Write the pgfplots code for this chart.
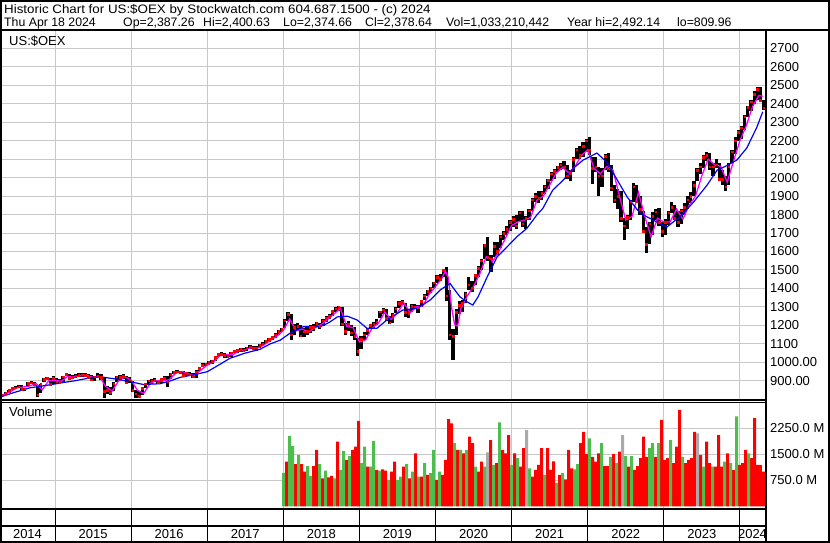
\documentclass[border=0pt]{standalone}
\usepackage{fontspec}
\setmainfont{Liberation Sans}
\usepackage{pgfplots}
\usepackage{pgfplotstable}
\pgfplotsset{compat=1.18}
\definecolor{gridgray}{RGB}{200,200,200}
\definecolor{vgreen}{RGB}{77,190,77}
\definecolor{vgray}{RGB}{170,170,170}
\definecolor{mag}{RGB}{255,0,255}
\definecolor{ablue}{RGB}{0,0,255}

% half-monthly price ranges, from second half of Apr 2014
\pgfplotstableread{
lo hi c
815 830 825
822 838 832
835 852 848
850 865 860
855 870 862
860 875 868
850 876 855
842 862 858
870 892 888
882 898 890
872 892 878
810 878 825
835 885 880
895 915 908
905 922 915
875 915 880
885 925 915
880 915 895
885 912 890
895 928 922
925 942 935
908 938 915
910 932 918
915 935 928
920 940 930
918 940 932
922 942 930
912 935 920
900 930 905
898 928 922
915 940 925
905 935 920
806 915 845
830 870 850
822 865 835
845 895 885
895 928 922
910 932 918
912 935 925
880 925 890
890 922 905
840 900 850
808 850 830
806 845 818
825 865 860
860 890 885
885 905 900
885 908 900
895 915 905
880 905 890
890 915 910
905 925 915
865 925 895
910 940 935
935 952 945
940 958 950
938 955 945
920 955 930
925 948 940
925 945 932
915 940 922
915 960 950
955 975 968
975 995 985
980 998 990
988 1008 1000
992 1012 1005
1005 1035 1028
1030 1052 1045
1035 1055 1045
1025 1050 1038
1022 1045 1030
1030 1058 1052
1048 1068 1060
1048 1070 1065
1058 1078 1070
1055 1075 1065
1060 1085 1078
1072 1092 1085
1065 1090 1075
1062 1088 1080
1075 1098 1092
1088 1108 1100
1100 1120 1115
1110 1132 1125
1120 1142 1135
1130 1158 1150
1150 1175 1170
1165 1188 1180
1185 1235 1225
1225 1274 1260
1120 1260 1150
1150 1205 1190
1170 1215 1195
1135 1200 1145
1135 1185 1165
1150 1190 1170
1160 1200 1190
1170 1205 1190
1190 1220 1212
1178 1212 1195
1195 1232 1225
1220 1250 1240
1235 1262 1250
1250 1285 1278
1270 1298 1290
1280 1305 1298
1195 1300 1210
1150 1215 1170
1170 1225 1205
1145 1200 1160
1120 1190 1140
1034 1130 1060
1070 1140 1125
1120 1165 1150
1150 1185 1175
1180 1210 1200
1180 1220 1210
1200 1235 1220
1240 1280 1275
1260 1292 1285
1225 1290 1240
1205 1250 1215
1215 1265 1255
1265 1300 1290
1295 1330 1320
1310 1335 1325
1245 1320 1270
1240 1290 1265
1270 1315 1305
1290 1318 1300
1265 1310 1295
1300 1340 1330
1335 1368 1360
1360 1390 1385
1375 1410 1400
1405 1435 1430
1430 1470 1460
1440 1480 1450
1460 1505 1500
1330 1515 1360
1120 1390 1150
1012 1180 1140
1150 1290 1270
1260 1330 1310
1270 1340 1320
1320 1380 1370
1390 1463 1420
1380 1440 1400
1420 1480 1470
1460 1520 1510
1500 1560 1550
1560 1640 1635
1550 1680 1570
1490 1580 1560
1570 1650 1630
1580 1650 1600
1620 1690 1680
1660 1710 1700
1690 1740 1720
1710 1770 1760
1730 1790 1775
1720 1800 1740
1760 1820 1810
1730 1820 1750
1720 1790 1780
1770 1830 1820
1820 1890 1880
1870 1915 1900
1860 1925 1890
1880 1930 1915
1910 1960 1950
1940 1995 1985
1980 2030 2020
1990 2045 2035
2030 2065 2055
2040 2080 2070
2045 2090 2060
1995 2070 2010
1980 2040 2025
2030 2110 2100
2100 2160 2150
2100 2170 2120
2110 2190 2170
2140 2210 2200
2120 2221 2150
1965 2110 2050
2030 2110 2060
1900 2060 2010
1950 2050 2010
2040 2125 2115
2030 2133 2050
1930 2070 1945
1860 1960 1880
1830 1940 1900
1760 1930 1780
1661 1780 1740
1720 1800 1785
1770 1880 1870
1870 1970 1950
1860 1960 1870
1800 1900 1830
1700 1820 1710
1591 1730 1640
1640 1760 1750
1690 1815 1790
1770 1830 1815
1740 1835 1760
1678 1760 1710
1690 1775 1760
1745 1820 1810
1810 1870 1840
1770 1850 1780
1732 1820 1760
1750 1830 1820
1800 1860 1840
1830 1900 1880
1860 1920 1900
1900 1980 1960
1980 2050 2040
2020 2080 2060
2050 2120 2110
2090 2140 2120
2040 2133 2060
2010 2080 2060
2050 2100 2070
1980 2080 1990
1960 2040 1990
1930 2010 1950
1960 2080 2060
2080 2150 2140
2130 2220 2200
2200 2260 2245
2210 2280 2270
2260 2340 2330
2330 2390 2380
2360 2420 2410
2400 2470 2450
2420 2492 2480
2410 2490 2420
2365 2420 2378
}\pricedata

\pgfplotstableread{
t v
2014.28 820
2014.333 826
2014.417 842
2014.500 862
2014.583 866
2014.667 872
2014.750 886
2014.833 852
2014.917 900
2015.000 902
2015.083 898
2015.167 924
2015.250 921
2015.333 927
2015.417 930
2015.500 918
2015.583 924
2015.667 868
2015.750 845
2015.833 898
2015.917 922
2016.000 903
2016.083 848
2016.167 832
2016.250 886
2016.333 902
2016.417 898
2016.500 906
2016.583 940
2016.667 950
2016.750 938
2016.833 930
2016.917 958
2017.000 985
2017.083 1002
2017.167 1035
2017.250 1042
2017.333 1040
2017.417 1062
2017.500 1068
2017.583 1080
2017.667 1078
2017.750 1095
2017.833 1120
2017.917 1142
2018.000 1172
2018.083 1235
2018.167 1170
2018.250 1180
2018.333 1163
2018.417 1188
2018.500 1205
2018.583 1232
2018.667 1262
2018.750 1292
2018.833 1195
2018.917 1188
2019.000 1110
2019.083 1122
2019.167 1185
2019.250 1212
2019.333 1272
2019.417 1232
2019.500 1268
2019.583 1322
2019.667 1268
2019.750 1300
2019.833 1305
2019.917 1368
2020.000 1410
2020.083 1455
2020.130 1494
2020.167 1460
2020.210 1300
2020.250 1205
2020.290 1196
2020.333 1290
2020.417 1360
2020.500 1410
2020.583 1480
2020.667 1571
2020.720 1560
2020.750 1545
2020.833 1600
2020.917 1670
2021.000 1740
2021.083 1760
2021.167 1770
2021.250 1785
2021.333 1878
2021.417 1900
2021.500 1960
2021.583 2022
2021.667 2055
2021.750 2025
2021.833 2060
2021.917 2120
2022.000 2150
2022.083 2050
2022.167 2020
2022.250 2060
2022.333 2040
2022.417 1900
2022.500 1770
2022.583 1790
2022.667 1920
2022.750 1790
2022.833 1680
2022.917 1780
2023.000 1760
2023.083 1760
2023.167 1830
2023.250 1775
2023.333 1850
2023.417 1900
2023.500 2010
2023.583 2100
2023.667 2070
2023.750 2060
2023.833 1975
2023.917 2090
2024.000 2200
2024.083 2280
2024.167 2385
2024.250 2445
2024.300 2440
}\fastma

\pgfplotstableread{
t v
2014.28 812
2014.45 835
2014.67 862
2014.93 878
2015.10 890
2015.26 900
2015.45 915
2015.59 922
2015.79 910
2015.99 895
2016.16 880
2016.38 884
2016.52 900
2016.64 918
2016.85 935
2017.00 949
2017.15 985
2017.30 1022
2017.50 1050
2017.69 1070
2017.83 1100
2017.96 1120
2018.09 1158
2018.26 1192
2018.48 1192
2018.60 1215
2018.71 1246
2018.84 1250
2018.97 1229
2019.10 1184
2019.23 1184
2019.36 1229
2019.57 1283
2019.76 1292
2019.93 1337
2020.06 1391
2020.19 1427
2020.32 1355
2020.41 1328
2020.49 1310
2020.56 1355
2020.68 1463
2020.81 1571
2020.94 1625
2021.07 1680
2021.20 1725
2021.33 1797
2021.41 1833
2021.54 1932
2021.68 1987
2021.81 2050
2021.94 2095
2022.07 2122
2022.12 2133
2022.25 2084
2022.39 1986
2022.52 1894
2022.69 1807
2022.86 1770
2023.04 1732
2023.21 1788
2023.38 1862
2023.57 1960
2023.70 2040
2023.83 2065
2023.96 2095
2024.09 2160
2024.22 2270
2024.30 2356
}\slowma

% volume (millions); c: 0 down (red), 1 up (green), 2 unchanged (gray)
\pgfplotstableread{
i v c
1 970 1
2 1290 0
3 2030 1
4 1740 1
5 1220 0
6 1480 1
7 1220 0
8 1000 0
9 1160 1
10 880 1
11 1160 0
12 1630 0
13 1220 1
14 810 0
15 1030 1
16 840 0
17 880 0
18 810 1
19 1865 0
20 1050 1
21 1600 1
22 1340 0
23 1450 1
24 1630 0
25 1720 0
26 2460 0
27 1245 1
28 1720 1
29 1150 0
30 1150 1
31 1885 1
32 1050 0
33 1030 1
34 1070 0
35 1030 0
36 765 1
37 1000 0
38 1290 0
39 765 1
40 860 1
41 1150 0
42 1220 1
43 810 0
44 1000 1
45 1530 0
46 860 1
47 860 0
48 1245 1
49 910 0
50 960 1
51 1630 1
52 765 0
53 1000 1
54 910 0
55 1340 0
56 2510 0
57 2390 0
58 1820 1
59 1630 0
60 1630 1
61 1530 0
62 1630 1
63 2010 0
64 1820 0
65 1150 1
66 1000 0
67 1290 0
68 1150 1
69 1560 2
70 1910 0
71 1195 1
72 1245 0
73 2420 1
74 1630 0
75 1530 0
76 2055 0
77 1195 1
78 1530 0
79 1390 1
80 1150 0
81 1680 0
82 2200 2
83 1100 1
84 860 0
85 1050 0
86 1195 0
87 1680 0
88 910 1
89 1680 0
90 1050 0
91 1300 0
92 680 1
93 910 0
94 960 1
95 780 0
96 1630 0
97 1100 0
98 1070 1
99 1220 1
100 1820 0
101 2150 0
102 1510 0
103 1960 1
104 1430 0
105 1290 0
106 1530 0
107 1820 1
108 1160 0
109 1160 0
110 1430 1
111 1510 0
112 1245 1
113 1580 0
114 2055 2
115 1450 1
116 1150 0
117 1450 1
118 1050 0
119 1160 0
120 1390 0
121 2010 0
122 1430 0
123 1680 1
124 1820 1
125 1430 0
126 1820 1
127 2490 0
128 1340 0
129 1390 0
130 1910 1
131 1245 0
132 1720 0
133 2780 0
134 1430 1
135 1245 0
136 1340 0
137 1390 0
138 2150 0
139 2100 2
140 1480 0
141 1150 1
142 1865 0
143 1245 0
144 1150 1
145 1150 0
146 2055 0
147 1150 0
148 1290 1
149 1530 0
150 1245 1
151 1050 0
152 2590 1
153 1195 0
154 1245 0
155 1630 0
156 1530 1
157 1390 0
158 2540 0
159 1195 0
160 1195 0
161 1000 0
}\voldata

\begin{document}
\begin{tikzpicture}[x=1pt,y=1pt,every node/.style={font=\fontsize{13}{15}\selectfont, inner sep=0pt}]
\path[use as bounding box] (0,0) rectangle (830,543);

% ---------- price panel ----------
\begin{axis}[
  at={(0pt,143pt)}, anchor=south west,
  scale only axis, width=766pt, height=370pt,
  xmin=2014.277, xmax=2024.343, ymin=796, ymax=2799,
  axis line style={draw=none},
  xtick={2015,2016,...,2024}, xticklabels={},
  ytick={900,1000,...,2700},
  yticklabels={900.00,1000.00,1100,1200,1300,1400,1500,1600,1700,1800,1900,2000,2100,2200,2300,2400,2500,2600,2700},
  yticklabel pos=right,
  yticklabel style={anchor=west, xshift=4pt, font=\fontsize{13}{15}\selectfont},
  major tick length=0pt,
  grid=major, major grid style={color=gridgray, line width=1pt},
]
\addplot[draw=none, mark=none, forget plot,
  error bars/.cd, y dir=plus, y explicit, error mark=none,
  error bar style={draw=black, line width=3.2pt}]
  table[x expr=2014.3125+\coordindex/24, y=lo, y error plus expr=\thisrow{hi}-\thisrow{lo}] \pricedata;
\addplot[only marks, mark=square*, mark size=0.8pt, color=red]
  table[x expr=2014.3125+\coordindex/24, y=c] \pricedata;
\addplot[mag, line width=1.3pt, mark=none] table[x=t, y=v] \fastma;
\addplot[ablue, line width=1.2pt, mark=none] table[x=t, y=v] \slowma;
\end{axis}

% ---------- volume panel ----------
\begin{axis}[
  at={(0pt,34pt)}, anchor=south west,
  scale only axis, width=766pt, height=106.3pt,
  xmin=2014.277, xmax=2024.343, ymin=-72, ymax=2986,
  axis line style={draw=none},
  xtick={2015,2016,...,2024}, xticklabels={},
  ytick={750,1500,2250},
  yticklabels={750.0 M,1500.0 M,2250.0 M},
  yticklabel pos=right,
  yticklabel style={anchor=west, xshift=4pt, font=\fontsize{13}{15}\selectfont},
  major tick length=0pt,
  grid=major, major grid style={color=gridgray, line width=1pt},
]
\addplot[ybar, bar width=3pt, bar shift=0pt, fill=red, draw=none,
  restrict expr to domain={\thisrow{c}}{-0.5:0.5}]
  table[x expr=2017.9632+0.039422*\thisrow{i}, y=v] \voldata;
\addplot[ybar, bar width=3pt, bar shift=0pt, fill=vgreen, draw=none,
  restrict expr to domain={\thisrow{c}}{0.5:1.5}]
  table[x expr=2017.9632+0.039422*\thisrow{i}, y=v] \voldata;
\addplot[ybar, bar width=3pt, bar shift=0pt, fill=vgray, draw=none,
  restrict expr to domain={\thisrow{c}}{1.5:2.5}]
  table[x expr=2017.9632+0.039422*\thisrow{i}, y=v] \voldata;
\end{axis}

% ---------- frame and separators ----------
\draw[line width=2pt] (1,1) rectangle (829,542);
\draw[line width=2pt] (0,513) -- (830,513);
\draw[line width=2pt] (766,513) -- (766,1);
\draw[line width=2pt] (0,142.5) -- (766,142.5);
\draw[line width=1pt] (0,140) -- (766,140);
\draw[line width=2pt] (0,34) -- (766,34);
\draw[line width=2pt] (0,17.3) -- (766,17.3);
\foreach \xd in {55,131.1,207.2,283.3,359.4,435.5,511.6,587.7,663.8,739.9}
  \draw[line width=1pt] (\xd,34) -- (\xd,1);
\foreach \yr/\xc in {2014/27.5,2015/93.05,2016/169.15,2017/245.25,2018/321.35,2019/397.45,2020/473.55,2021/549.65,2022/625.75,2023/701.85,2024/752.5}
  \node[anchor=base] at (\xc,4) {\yr};

% ---------- texts ----------
\begin{scope}[every node/.style={font=\fontsize{12.3}{14}\selectfont, inner sep=0pt}]
\node[anchor=base west] at (4,529) {\scalebox{1.085}[1]{Historic Chart for US:\$OEX by Stockwatch.com 604.687.1500 - (c) 2024}};
\node[anchor=base west] at (4,516) {Thu Apr 18 2024};
\node[anchor=base west] at (123,516) {Op=2,387.26};
\node[anchor=base west] at (203,516) {Hi=2,400.63};
\node[anchor=base west] at (283,516) {Lo=2,374.66};
\node[anchor=base west] at (365,516) {Cl=2,378.64};
\node[anchor=base west] at (446,516) {Vol=1,033,210,442};
\node[anchor=base west] at (567,516) {Year hi=2,492.14};
\node[anchor=base west] at (677,516) {lo=809.96};
\end{scope}
\node[anchor=base west] at (9,497) {US:\$OEX};
\node[anchor=base west] at (9,126) {Volume};
\end{tikzpicture}
\end{document}
